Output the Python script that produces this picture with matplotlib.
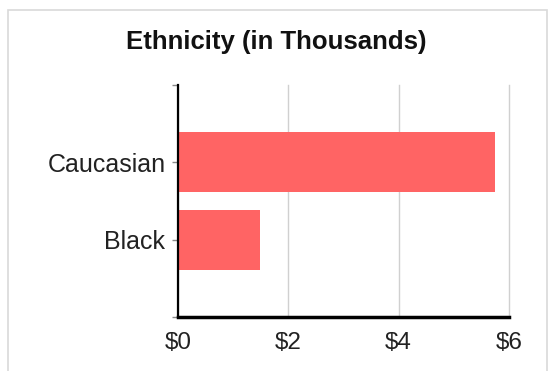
import numpy as np
import matplotlib.pyplot as plt
from matplotlib.patches import Rectangle

# Data (thousands)
categories = ["Black", "Caucasian"]
values = [1.48, 5.75]
x_ticks = [0, 2, 4, 6]
x_labels = ["$0", "$2", "$4", "$6"]

plt.rcParams['font.family'] = ['Liberation Sans', 'DejaVu Sans']

fig = plt.figure(figsize=(5.51, 3.71), dpi=100)
ax = fig.add_axes([178 / 551, 1 - 317 / 371, (509 - 178) / 551, (317 - 85) / 371])

# light grey frame round the chart
fig.patches.append(Rectangle((8 / 551, -0.05), (547 - 8) / 551, 1.05 - 10 / 371,
                             transform=fig.transFigure, fill=False,
                             edgecolor='#d9d9d9', linewidth=1.2))

pos = np.arange(1, len(categories) + 1)
ax.barh(pos, values, height=0.78, color='#ff6464', zorder=2)

ax.set_xlim(0, 6)
ax.set_ylim(0, 3)
ax.set_xticks(x_ticks)
ax.set_xticklabels(x_labels, fontsize=17.5, color='#222222')
ax.set_yticks([0, 1, 2, 3])
ax.set_yticklabels([""] + categories + [""], fontsize=18, color='#222222')
ax.tick_params(axis='x', length=0, pad=11)
ax.tick_params(axis='y', length=4, width=1, color='#888888', pad=5)

ax.grid(axis='x', color='#d0d0d0', linewidth=1, zorder=0)
for gl in ax.get_xgridlines():
    gl.set_clip_on(False)
ax.set_axisbelow(True)
for s in ['top', 'right']:
    ax.spines[s].set_visible(False)
ax.spines['left'].set_linewidth(1.6)
ax.spines['bottom'].set_linewidth(2.5)

fig.text(276 / 551, 1 - 42 / 371, "Ethnicity (in Thousands)", ha='center',
         va='center', fontsize=18.5, fontweight='bold', color='#111111')

fig.savefig('out.png', dpi=100)
